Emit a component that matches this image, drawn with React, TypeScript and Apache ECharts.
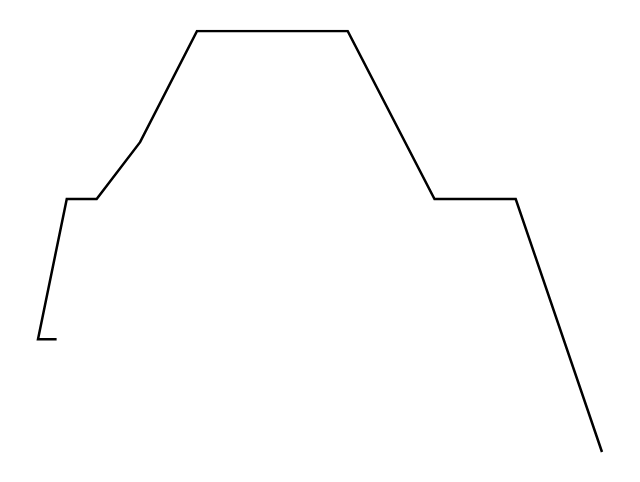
import React, { useEffect, useRef } from "react";
import * as echarts from "echarts";

const xValues = [3.3, 0, 5.1, 10.4, 18.1, 28.2, 54.9, 70.3, 84.7, 100];
const yValues = [26.8, 26.8, 60.1, 60.1, 73.6, 100, 100, 60.1, 60.1, 0];

export default function App() {
  const ref = useRef<HTMLDivElement>(null);
  useEffect(() => {
    if (!ref.current) return;
    const chart = echarts.init(ref.current, null, { renderer: "svg" });
    const data = xValues.map((x, i) => [x, yValues[i]]);
    chart.setOption({
      animation: false,
      backgroundColor: "#ffffff",
      grid: { left: 38, right: 38, top: 31, bottom: 30 },
      xAxis: {
        type: "value",
        min: 0,
        max: 100,
        show: false,
        splitLine: { show: false },
      },
      yAxis: {
        type: "value",
        min: 0,
        max: 100,
        show: false,
        splitLine: { show: false },
      },
      series: [
        {
          type: "line",
          data,
          showSymbol: false,
          symbol: "none",
          lineStyle: { color: "#000000", width: 2.5, join: "miter", cap: "butt" },
        },
      ],
    });
    return () => chart.dispose();
  }, []);
  return (
    <div
      ref={ref}
      style={{ position: "fixed", left: 0, top: 0, width: 640, height: 482 }}
    />
  );
}
